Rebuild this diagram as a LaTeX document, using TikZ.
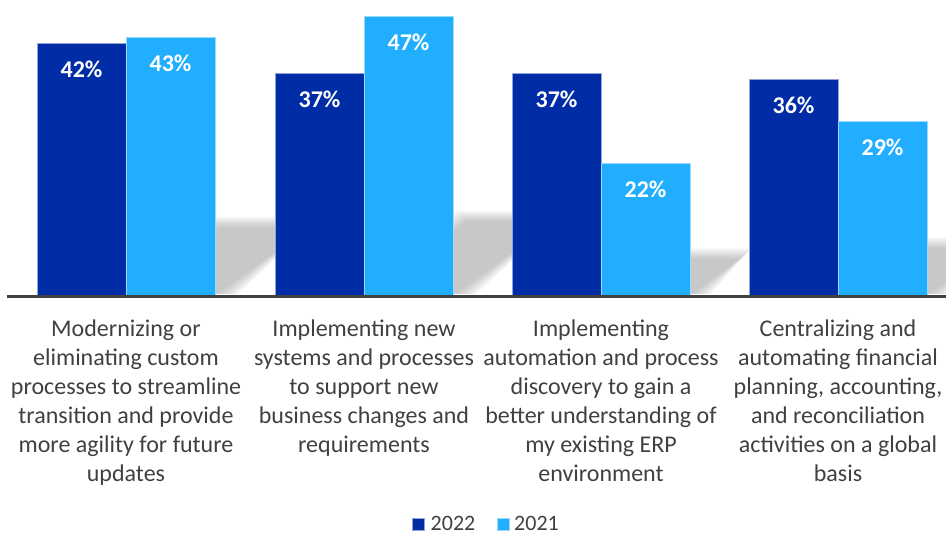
\documentclass[tikz,border=0pt]{standalone}
\usepackage{fontspec}
\setmainfont{Carlito}
\definecolor{darkbar}{HTML}{002DA6}
\definecolor{lightbar}{HTML}{22AEFF}
\definecolor{darkedge}{HTML}{8FA3D9}
\definecolor{lightedge}{HTML}{9ADAFF}
\definecolor{txt}{HTML}{404040}
\definecolor{axisgray}{HTML}{404040}
\tikzset{
  darkbox/.style={fill=darkbar, draw=darkedge, line width=0.8bp},
  lightbox/.style={fill=lightbar, draw=lightedge, line width=0.8bp},
  vallabel/.style={font=\fontsize{24bp}{29bp}\selectfont\bfseries, text=white, anchor=base, inner sep=0pt},
  catlabel/.style={font=\fontsize{24bp}{29bp}\selectfont, text=txt, align=center, anchor=north, inner sep=0pt},
  legtext/.style={font=\fontsize{22bp}{26bp}\selectfont, text=txt, anchor=base west, inner sep=0pt},
  shadowlayer/.style={fill=black!45, opacity=0.08}
}
\begin{document}
\begin{tikzpicture}[x=1bp, y=-1bp]
\useasboundingbox (0,0) rectangle (946,535);
% shadows
\begin{scope}
\clip (0,0) rectangle (946,294);
\foreach \l/\r/\h in {126/215/258, 364/453/282, 601/690/132, 838/927/174} {
  \pgfmathsetmacro\s{0.25*\h+3}
  \pgfmathsetmacro\dx{1.4*\s}
  \foreach \d in {0,1.5,...,10.5} {
    \fill[shadowlayer] (\l-\d,295+\d) -- (\r+\d,295+\d) -- (\r+\dx+\d,295-\s-\d) -- (\l+\dx-\d,295-\s-\d) -- cycle;
  }
}
\end{scope}
% bars
\foreach \i/\xl/\hd/\hl/\vd/\vl in {1/37/252/258/42/43, 2/275/222/279/37/47, 3/512/222/132/37/22, 4/749/216/174/36/29} {
  \draw[darkbox] (\xl,295) rectangle (\xl+89,295-\hd);
  \draw[lightbox] (\xl+89,295) rectangle (\xl+178,295-\hl);
  \node[vallabel] (d\i) at (\xl+44.5,295-\hd+35) {\vd\%};
  \node[vallabel] (l\i) at (\xl+133.5,295-\hl+35) {\vl\%};
}
% axis
\coordinate (axl) at (7,296.5);
\coordinate (axr) at (946,296.5);
\draw[axisgray, line width=3bp] (axl) -- (axr);
% category labels
\node[catlabel] (c1) at (126,315.7) {\strut Modernizing or\\eliminating custom\\processes to streamline\\transition and provide\\more agility for future\\updates};
\node[catlabel] (c2) at (364,315.7) {\strut Implementing new\\systems and processes\\to support new\\business changes and\\requirements};
\node[catlabel] (c3) at (601,315.7) {\strut Implementing\\automation and process\\discovery to gain a\\better understanding of\\my existing ERP\\environment};
\node[catlabel] (c4) at (838,315.7) {\strut Centralizing and\\automating financial\\planning, accounting,\\and reconciliation\\activities on a global\\basis};
% legend
\draw[darkbox] (412,518.5) rectangle (424,530.5);
\node[legtext] (lg1) at (430.5,530) {2022};
\draw[lightbox] (497,518.5) rectangle (509,530.5);
\node[legtext] (lg2) at (514,530) {2021};
\end{tikzpicture}
\end{document}
